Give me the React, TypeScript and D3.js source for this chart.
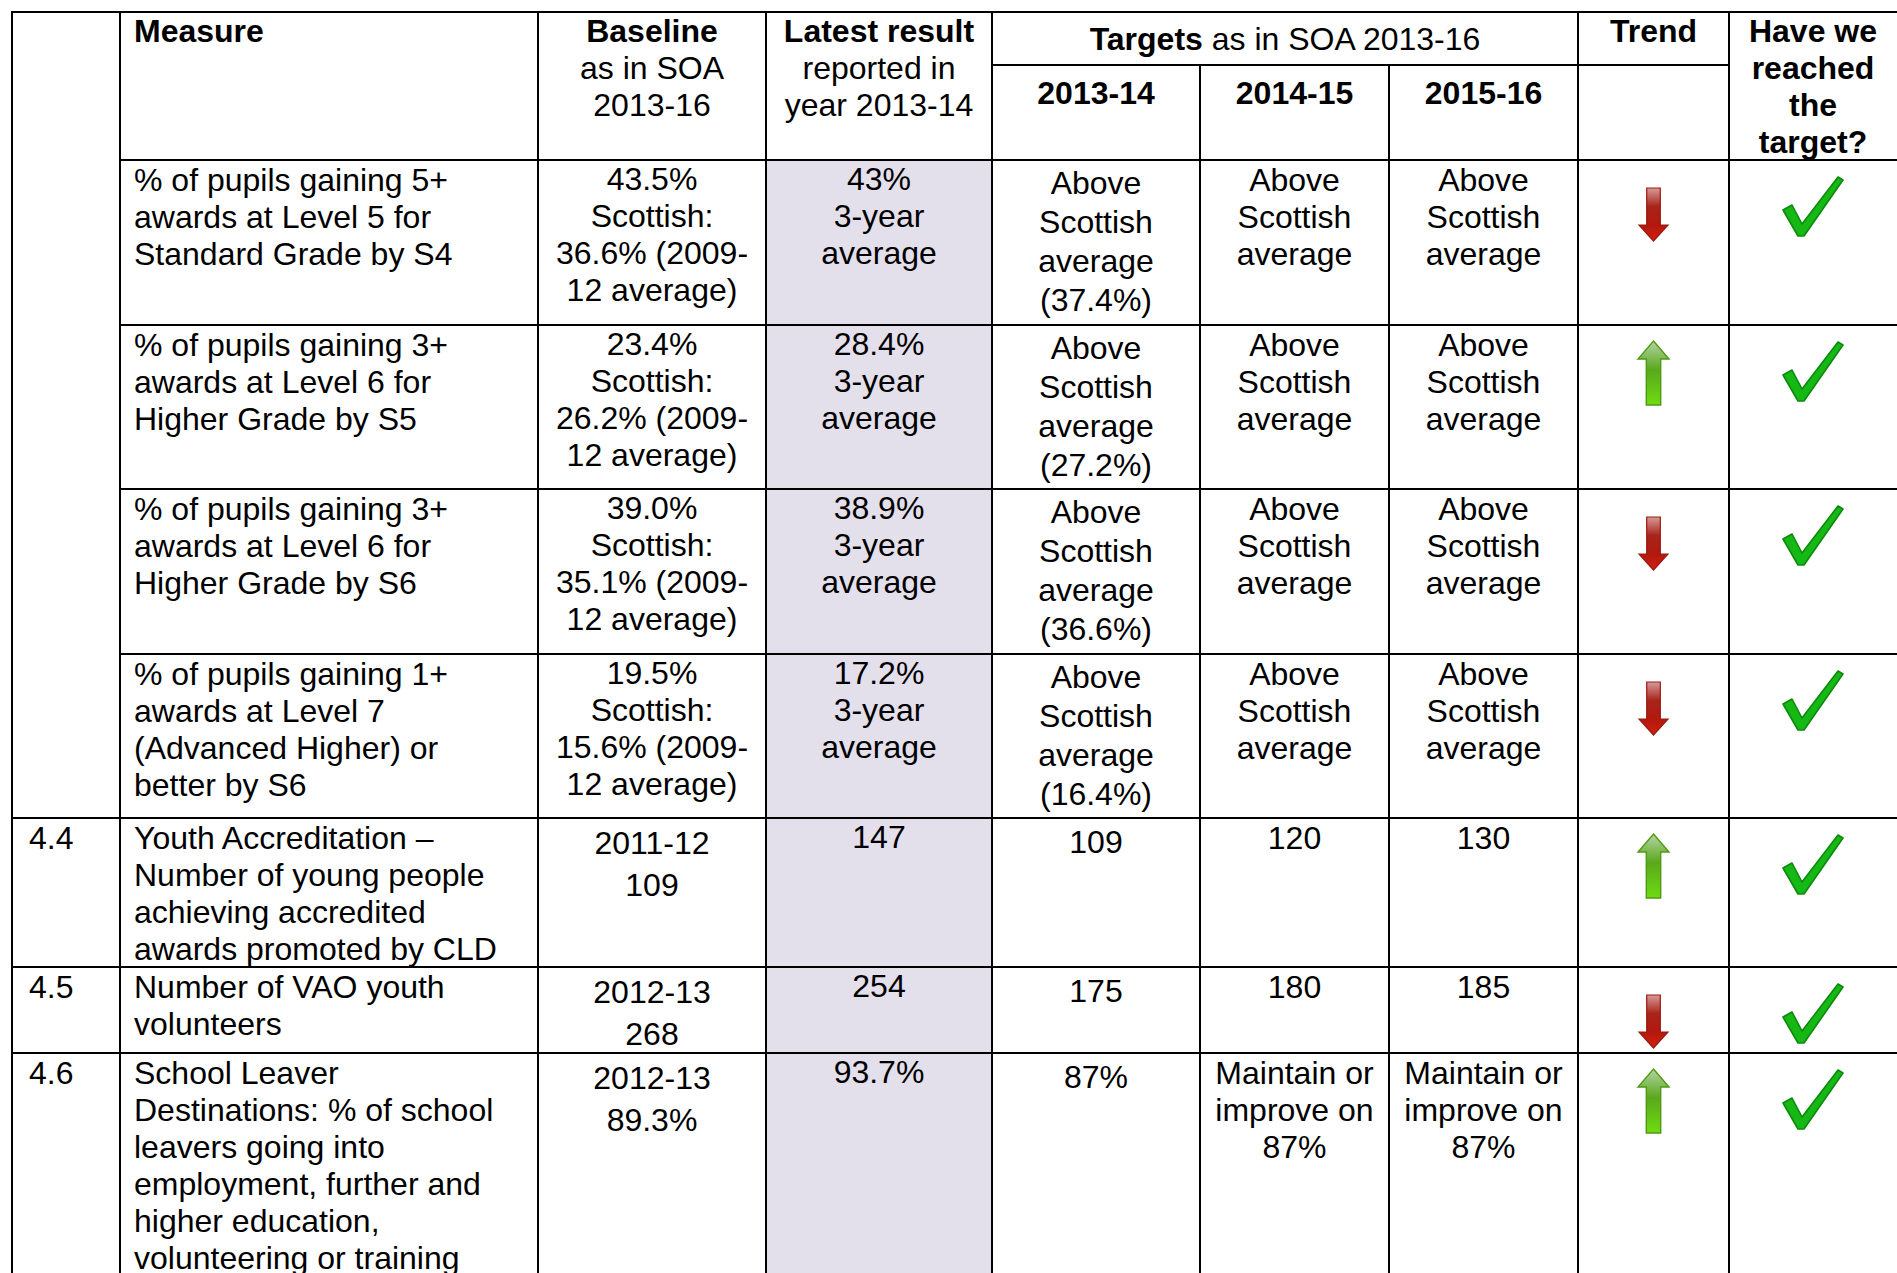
import React from 'react';
import * as d3 from 'd3';

// table content, one array per column
const rowIds = ['', '', '', '', '4.4', '4.5', '4.6'];

const measures = [
  ['% of pupils gaining 5+', 'awards at Level 5 for', 'Standard Grade by S4'],
  ['% of pupils gaining 3+', 'awards at Level 6 for', 'Higher Grade by S5'],
  ['% of pupils gaining 3+', 'awards at Level 6 for', 'Higher Grade by S6'],
  ['% of pupils gaining 1+', 'awards at Level 7', '(Advanced Higher) or', 'better by S6'],
  ['Youth Accreditation –', 'Number of young people', 'achieving accredited', 'awards promoted by CLD'],
  ['Number of VAO youth', 'volunteers'],
  ['School Leaver', 'Destinations: % of school', 'leavers going into', 'employment, further and', 'higher education,', 'volunteering or training'],
];

const baselines = [
  ['43.5%', 'Scottish:', '36.6% (2009-', '12 average)'],
  ['23.4%', 'Scottish:', '26.2% (2009-', '12 average)'],
  ['39.0%', 'Scottish:', '35.1% (2009-', '12 average)'],
  ['19.5%', 'Scottish:', '15.6% (2009-', '12 average)'],
  ['2011-12', '109'],
  ['2012-13', '268'],
  ['2012-13', '89.3%'],
];

const latest = [
  ['43%', '3-year', 'average'],
  ['28.4%', '3-year', 'average'],
  ['38.9%', '3-year', 'average'],
  ['17.2%', '3-year', 'average'],
  ['147'],
  ['254'],
  ['93.7%'],
];

const target1314 = [
  ['Above', 'Scottish', 'average', '(37.4%)'],
  ['Above', 'Scottish', 'average', '(27.2%)'],
  ['Above', 'Scottish', 'average', '(36.6%)'],
  ['Above', 'Scottish', 'average', '(16.4%)'],
  ['109'],
  ['175'],
  ['87%'],
];

const target1415 = [
  ['Above', 'Scottish', 'average'],
  ['Above', 'Scottish', 'average'],
  ['Above', 'Scottish', 'average'],
  ['Above', 'Scottish', 'average'],
  ['120'],
  ['180'],
  ['Maintain or', 'improve on', '87%'],
];

const target1516 = [
  ['Above', 'Scottish', 'average'],
  ['Above', 'Scottish', 'average'],
  ['Above', 'Scottish', 'average'],
  ['Above', 'Scottish', 'average'],
  ['130'],
  ['185'],
  ['Maintain or', 'improve on', '87%'],
];

const trends = ['down', 'up', 'down', 'down', 'up', 'down', 'up'];
const reached = [true, true, true, true, true, true, true];

const yearHeaders = ['2013-14', '2014-15', '2015-16'];

// layout
const WIDTH = 1897;
const HEIGHT = 1273;
const FONT = '"Liberation Sans", Arial, Helvetica, sans-serif';
const FS = 32;
const colKeys = ['id', 'measure', 'baseline', 'latest', 't1314', 't1415', 't1516', 'trend', 'reached', 'end'];
const colEdges = [12, 120, 538, 766, 992, 1200, 1389, 1578, 1729, 1905];
const TOP = 12;
const SUB_Y = 65;
const HEAD_BOTTOM = 160;
const rowHeights = [165, 164, 165, 164, 149, 86, 260];

const xLeft = d3.scaleOrdinal<string, number>().domain(colKeys).range(colEdges);
const xMid = (k: string) => (xLeft(k) + xLeft(colKeys[colKeys.indexOf(k) + 1])) / 2;
const rowTops = [HEAD_BOTTOM, ...Array.from(d3.cumsum(rowHeights)).map((h) => HEAD_BOTTOM + h)];

const textLayout = (col: string, i: number) => {
  if (col === 'baseline') return i < 4 ? { dy: 30, lh: 37 } : { dy: 36, lh: 42 };
  if (col === 't1314') return i < 4 ? { dy: 34, lh: 39 } : { dy: 35, lh: 37 };
  if (col === 'latest') return { dy: 30, lh: 37 };
  return { dy: 31, lh: 37 };
};

const bodyColumns: { key: string; lines: string[][]; align: 'start' | 'middle' }[] = [
  { key: 'id', lines: rowIds.map((d) => [d]), align: 'start' },
  { key: 'measure', lines: measures, align: 'start' },
  { key: 'baseline', lines: baselines, align: 'middle' },
  { key: 'latest', lines: latest, align: 'middle' },
  { key: 't1314', lines: target1314, align: 'middle' },
  { key: 't1415', lines: target1415, align: 'middle' },
  { key: 't1516', lines: target1516, align: 'middle' },
];

const textX = (key: string, align: string) =>
  align === 'start' ? xLeft(key) + (key === 'id' ? 17 : 14) : xMid(key);

const Arrow: React.FC<{ dir: string; cx: number; top: number }> = ({ dir, cx, top }) => {
  if (dir === 'down') {
    const s = 6.8, h = 14.5, y0 = top + 28, yh = top + 65, y1 = top + 81;
    const d = `M${cx - s},${y0}L${cx + s},${y0}L${cx + s},${yh}L${cx + h},${yh}L${cx},${y1}L${cx - h},${yh}L${cx - s},${yh}Z`;
    return <path d={d} fill="url(#redGrad)" stroke="#9a1a10" strokeWidth={1.2} />;
  }
  const s = 7.2, h = 15.5, y0 = top + 16, yh = top + 34, y1 = top + 80;
  const d = `M${cx},${y0}L${cx + h},${yh}L${cx + s},${yh}L${cx + s},${y1}L${cx - s},${y1}L${cx - s},${yh}L${cx - h},${yh}Z`;
  return <path d={d} fill="url(#greenGrad)" stroke="#4f9a12" strokeWidth={1.4} />;
};

const Check: React.FC<{ x: number; y: number }> = ({ x, y }) => (
  <path
    transform={`translate(${x},${y})`}
    d="M0,33 L9,28 L19,47 L55,0 L60,3 L21,59 L15,59 Z"
    fill="#16b816"
    stroke="#0c8a0c"
    strokeWidth={1.6}
    strokeLinejoin="round"
  />
);

export default function App() {
  const right = colEdges[colEdges.length - 1];
  const hLines: { y: number; x1: number; x2: number }[] = [
    { y: TOP, x1: colEdges[0], x2: right },
    { y: SUB_Y, x1: xLeft('t1314'), x2: xLeft('reached') },
    { y: HEAD_BOTTOM, x1: xLeft('measure'), x2: right },
    ...rowTops.slice(1, 4).map((y) => ({ y, x1: xLeft('measure'), x2: right })),
    ...rowTops.slice(4).map((y) => ({ y, x1: colEdges[0], x2: right })),
  ];
  // the year columns sit under the merged "Targets" cell, so their dividers start at the sub-header
  const splitCols = ['t1415', 't1516'];
  const vLines = colKeys.slice(0, 9).map((k) => ({
    x: xLeft(k),
    y1: splitCols.includes(k) ? SUB_Y : TOP,
    y2: HEIGHT + 5,
  }));

  return (
    <svg
      width={WIDTH}
      height={HEIGHT}
      style={{ position: 'absolute', left: 0, top: 0, display: 'block', background: '#fff' }}
      fontFamily={FONT}
      fontSize={FS}
    >
      <defs>
        <linearGradient id="redGrad" x1="0" y1="0" x2="0" y2="1">
          <stop offset="0%" stopColor="#d79a98" />
          <stop offset="35%" stopColor="#a8241a" />
          <stop offset="70%" stopColor="#b3180e" />
          <stop offset="100%" stopColor="#d22010" />
        </linearGradient>
        <linearGradient id="greenGrad" x1="0" y1="0" x2="0" y2="1">
          <stop offset="0%" stopColor="#b4d4a4" />
          <stop offset="45%" stopColor="#5aa81c" />
          <stop offset="100%" stopColor="#6edc10" />
        </linearGradient>
      </defs>
      <rect x={0} y={0} width={WIDTH} height={HEIGHT} fill="#fff" />
      <rect
        x={xLeft('latest')}
        y={HEAD_BOTTOM}
        width={xLeft('t1314') - xLeft('latest')}
        height={HEIGHT - HEAD_BOTTOM + 10}
        fill="#e3dfeb"
      />

      {/* header */}
      <g fill="#000">
        <text x={xLeft('measure') + 14} y={TOP + 30} fontWeight="bold">Measure</text>
        {['Baseline', 'as in SOA', '2013-16'].map((t, j) => (
          <text key={t} x={xMid('baseline')} y={TOP + 30 + j * 37} textAnchor="middle" fontWeight={j === 0 ? 'bold' : 'normal'}>
            {t}
          </text>
        ))}
        {['Latest result', 'reported in', 'year 2013-14'].map((t, j) => (
          <text key={t} x={xMid('latest')} y={TOP + 30 + j * 37} textAnchor="middle" fontWeight={j === 0 ? 'bold' : 'normal'}>
            {t}
          </text>
        ))}
        <text x={(xLeft('t1314') + xLeft('trend')) / 2} y={TOP + 38} textAnchor="middle">
          <tspan fontWeight="bold">Targets</tspan>
          <tspan> as in SOA 2013-16</tspan>
        </text>
        {yearHeaders.map((t, j) => (
          <text key={t} x={xMid(['t1314', 't1415', 't1516'][j])} y={SUB_Y + 39} textAnchor="middle" fontWeight="bold">
            {t}
          </text>
        ))}
        <text x={xMid('trend')} y={TOP + 30} textAnchor="middle" fontWeight="bold">Trend</text>
        {['Have we', 'reached', 'the', 'target?'].map((t, j) => (
          <text key={t} x={(xLeft('reached') + 1897) / 2} y={TOP + 30 + j * 37} textAnchor="middle" fontWeight="bold">
            {t}
          </text>
        ))}
      </g>

      {/* body text */}
      <g fill="#000">
        {bodyColumns.map((col) =>
          col.lines.map((lines, i) => {
            const { dy, lh } = textLayout(col.key, i);
            return lines.map((t, j) => (
              <text
                key={`${col.key}-${i}-${j}`}
                x={textX(col.key, col.align)}
                y={rowTops[i] + dy + j * lh}
                textAnchor={col.align}
              >
                {t}
              </text>
            ));
          })
        )}
      </g>

      {/* trend arrows and ticks */}
      {trends.map((t, i) => (
        <Arrow key={`a${i}`} dir={t} cx={xMid('trend')} top={rowTops[i]} />
      ))}
      {reached.map((r, i) => (r ? <Check key={`c${i}`} x={1783} y={rowTops[i] + 17} /> : null))}

      {/* grid */}
      <g stroke="#000" strokeWidth={2.2} shapeRendering="crispEdges">
        {hLines.map((l, i) => (
          <line key={`h${i}`} x1={l.x1 - 1} x2={l.x2} y1={l.y} y2={l.y} />
        ))}
        {vLines.map((l, i) => (
          <line key={`v${i}`} x1={l.x} x2={l.x} y1={l.y1 - 1} y2={l.y2} />
        ))}
      </g>
    </svg>
  );
}
